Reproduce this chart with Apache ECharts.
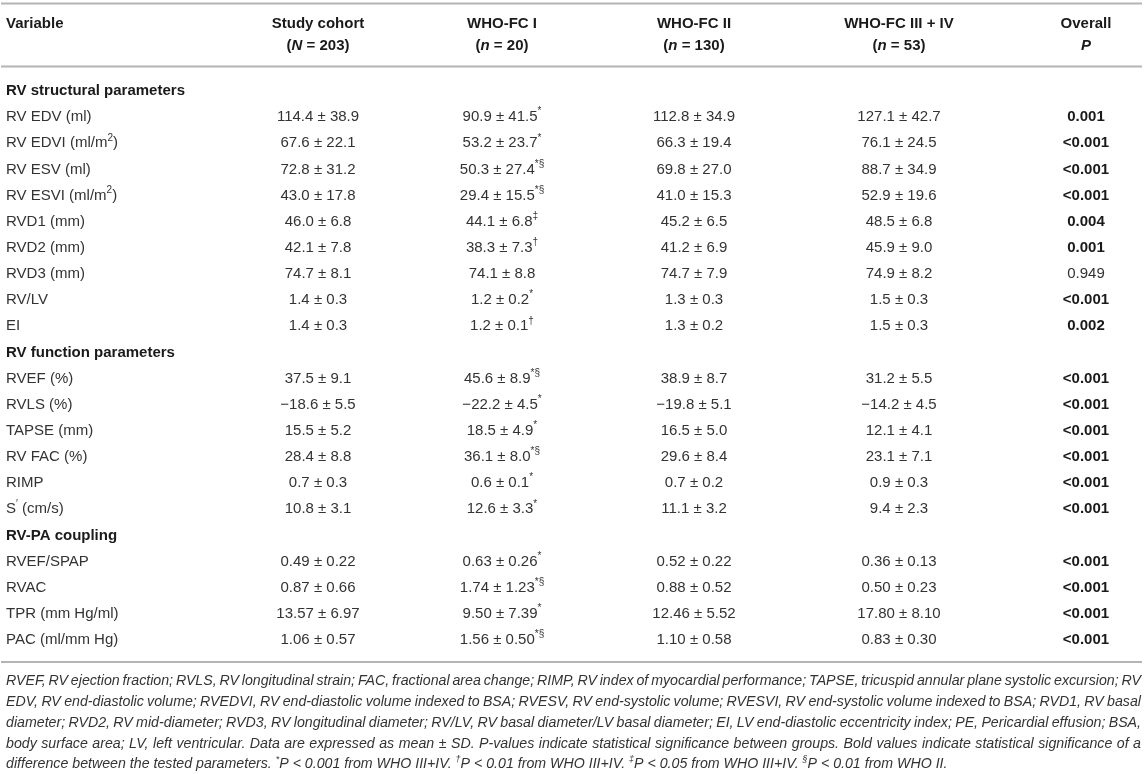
<!DOCTYPE html>
<html>
<head>
<meta charset="utf-8">
<script src="https://cdn.jsdelivr.net/npm/echarts@6/dist/echarts.min.js"></script>
<style>
html, body { margin: 0; padding: 0; background: #fff; }
#main { width: 1147px; height: 774px; }
</style>
</head>
<body>
<div id="main"></div>
<script>
// {x} = superscript, [x] = italic
var rowLabels = [
    'RV structural parameters',
    'RV EDV (ml)', 'RV EDVI (ml/m{2})', 'RV ESV (ml)', 'RV ESVI (ml/m{2})',
    'RVD1 (mm)', 'RVD2 (mm)', 'RVD3 (mm)', 'RV/LV', 'EI',
    'RV function parameters',
    'RVEF (%)', 'RVLS (%)', 'TAPSE (mm)', 'RV FAC (%)', 'RIMP', 'S{′} (cm/s)',
    'RV-PA coupling',
    'RVEF/SPAP', 'RVAC', 'TPR (mm Hg/ml)', 'PAC (ml/mm Hg)'
];
var sectionRows = [0, 10, 17];

var colTitles = ['Study cohort', 'WHO-FC I', 'WHO-FC II', 'WHO-FC III + IV', 'Overall'];
var colSubs = ['([N] = 203)', '([n] = 20)', '([n] = 130)', '([n] = 53)', '[P]'];

var cohort = ['114.4 ± 38.9', '67.6 ± 22.1', '72.8 ± 31.2', '43.0 ± 17.8', '46.0 ± 6.8', '42.1 ± 7.8',
    '74.7 ± 8.1', '1.4 ± 0.3', '1.4 ± 0.3', '37.5 ± 9.1', '−18.6 ± 5.5', '15.5 ± 5.2', '28.4 ± 8.8',
    '0.7 ± 0.3', '10.8 ± 3.1', '0.49 ± 0.22', '0.87 ± 0.66', '13.57 ± 6.97', '1.06 ± 0.57'];
var fc1 = ['90.9 ± 41.5', '53.2 ± 23.7', '50.3 ± 27.4', '29.4 ± 15.5', '44.1 ± 6.8', '38.3 ± 7.3',
    '74.1 ± 8.8', '1.2 ± 0.2', '1.2 ± 0.1', '45.6 ± 8.9', '−22.2 ± 4.5', '18.5 ± 4.9', '36.1 ± 8.0',
    '0.6 ± 0.1', '12.6 ± 3.3', '0.63 ± 0.26', '1.74 ± 1.23', '9.50 ± 7.39', '1.56 ± 0.50'];
var fc1Marks = ['*', '*', '*§', '*§', '‡', '†', '', '*', '†', '*§', '*', '*', '*§', '*', '*', '*', '*§', '*', '*§'];
var fc2 = ['112.8 ± 34.9', '66.3 ± 19.4', '69.8 ± 27.0', '41.0 ± 15.3', '45.2 ± 6.5', '41.2 ± 6.9',
    '74.7 ± 7.9', '1.3 ± 0.3', '1.3 ± 0.2', '38.9 ± 8.7', '−19.8 ± 5.1', '16.5 ± 5.0', '29.6 ± 8.4',
    '0.7 ± 0.2', '11.1 ± 3.2', '0.52 ± 0.22', '0.88 ± 0.52', '12.46 ± 5.52', '1.10 ± 0.58'];
var fc34 = ['127.1 ± 42.7', '76.1 ± 24.5', '88.7 ± 34.9', '52.9 ± 19.6', '48.5 ± 6.8', '45.9 ± 9.0',
    '74.9 ± 8.2', '1.5 ± 0.3', '1.5 ± 0.3', '31.2 ± 5.5', '−14.2 ± 4.5', '12.1 ± 4.1', '23.1 ± 7.1',
    '0.9 ± 0.3', '9.4 ± 2.3', '0.36 ± 0.13', '0.50 ± 0.23', '17.80 ± 8.10', '0.83 ± 0.30'];
var pValues = ['0.001', '<0.001', '<0.001', '<0.001', '0.004', '0.001', '0.949', '<0.001', '0.002',
    '<0.001', '<0.001', '<0.001', '<0.001', '<0.001', '<0.001',
    '<0.001', '<0.001', '<0.001', '<0.001'];

var footLines = [
    'RVEF, RV ejection fraction; RVLS, RV longitudinal strain; FAC, fractional area change; RIMP, RV index of myocardial performance; TAPSE, tricuspid annular plane systolic excursion; RV',
    'EDV, RV end-diastolic volume; RVEDVI, RV end-diastolic volume indexed to BSA; RVESV, RV end-systolic volume; RVESVI, RV end-systolic volume indexed to BSA; RVD1, RV basal',
    'diameter; RVD2, RV mid-diameter; RVD3, RV longitudinal diameter; RV/LV, RV basal diameter/LV basal diameter; EI, LV end-diastolic eccentricity index; PE, Pericardial effusion; BSA,',
    'body surface area; LV, left ventricular. Data are expressed as mean ± SD. P-values indicate statistical significance between groups. Bold values indicate statistical significance of a',
    'difference between the tested parameters. {*}P < 0.001 from WHO III+IV. {†}P < 0.01 from WHO III+IV. {‡}P < 0.05 from WHO III+IV. {§}P < 0.01 from WHO II.'
];

// layout
var FAM = '"Liberation Sans", Arial, sans-serif';
var colX = [318, 502, 694, 899, 1086];
var LEFT = 6, RIGHT = 1141;
var BODY = '#333', DARK = '#1a1a1a', RULE = '#b4b4b4';
var SIZE = 15, FOOT = 14.2;

var ctx = document.createElement('canvas').getContext('2d');
function measure(p) {
    ctx.font = (p.style || 'normal') + ' ' + (p.weight || 'normal') + ' ' + p.size + 'px ' + FAM;
    return ctx.measureText(p.t).width;
}
function parse(str, base) {
    var out = [];
    str.split(/(\{[^}]*\}|\[[^\]]*\])/).forEach(function (s) {
        if (!s) return;
        var p = Object.assign({}, base);
        if (s[0] === '{') { p.t = s.slice(1, -1); p.sup = true; p.size = Math.round(base.size * 0.64); }
        else if (s[0] === '[') { p.t = s.slice(1, -1); p.style = 'italic'; }
        else p.t = s;
        out.push(p);
    });
    return out;
}
function run(x, y, align, pieces, color) {
    var w = 0;
    pieces.forEach(function (p) { w += measure(p); });
    var cx = align === 'center' ? x - w / 2 : (align === 'right' ? x - w : x);
    return pieces.map(function (p) {
        var el = {
            type: 'text', silent: true,
            style: {
                text: p.t, x: cx, y: y + (p.sup ? -p.size * 0.55 : 0),
                fontSize: p.size, fontFamily: FAM, fontWeight: p.weight || 'normal',
                fontStyle: p.style || 'normal', fill: color,
                textAlign: 'left', textVerticalAlign: 'middle', align: 'left', verticalAlign: 'middle'
            }
        };
        cx += measure(p);
        return el;
    });
}

// map table rows -> data index
var dataIndexOfRow = [];
var k = 0;
rowLabels.forEach(function (l, i) { dataIndexOfRow.push(sectionRows.indexOf(i) >= 0 ? -1 : k++); });

function renderRow(params, api) {
    var r = api.value(1);
    var y = api.coord([0, r])[1];
    var kids = [];
    var isSec = sectionRows.indexOf(r) >= 0;
    kids = kids.concat(run(api.coord([LEFT, r])[0], y, 'left',
        parse(rowLabels[r], { size: SIZE, weight: isSec ? 'bold' : 'normal' }), isSec ? DARK : BODY));
    var d = dataIndexOfRow[r];
    if (d >= 0) {
        var cols = [cohort[d], fc1[d] + (fc1Marks[d] ? '{' + fc1Marks[d] + '}' : ''), fc2[d], fc34[d]];
        cols.forEach(function (c, j) {
            kids = kids.concat(run(api.coord([colX[j], r])[0], y, 'center', parse(c, { size: SIZE }), BODY));
        });
        var sig = parseFloat(pValues[d].replace('<', '')) < 0.05;
        kids = kids.concat(run(api.coord([colX[4], r])[0], y, 'center',
            [{ t: pValues[d], size: SIZE, weight: sig ? 'bold' : 'normal' }], sig ? DARK : BODY));
    }
    return { type: 'group', children: kids };
}

// header + rules + footnote
var graphics = [];
function rule(y) {
    graphics.push({ type: 'line', silent: true, shape: { x1: LEFT - 5, y1: y, x2: RIGHT + 1, y2: y },
        style: { stroke: RULE, lineWidth: 2 } });
}
rule(3.5); rule(66.5); rule(662);
graphics = graphics.concat(run(LEFT, 24, 'left', [{ t: 'Variable', size: SIZE, weight: 'bold' }], DARK));
colTitles.forEach(function (t, j) {
    graphics = graphics.concat(run(colX[j], 24, 'center', [{ t: t, size: SIZE, weight: 'bold' }], DARK));
    graphics = graphics.concat(run(colX[j], 46, 'center', parse(colSubs[j], { size: SIZE, weight: 'bold' }), DARK));
});
footLines.forEach(function (line, i) {
    var y = 681.5 + i * 20.7;
    var base = { size: FOOT, style: 'italic' };
    if (i === footLines.length - 1) {
        graphics = graphics.concat(run(LEFT, y, 'left', parse(line, base), BODY));
        return;
    }
    var words = line.split(' ');
    var ws = words.map(function (w) { return measure(Object.assign({ t: w }, base)); });
    var sum = ws.reduce(function (a, b) { return a + b; }, 0);
    var gap = (RIGHT - LEFT - sum) / (words.length - 1);
    var x = LEFT;
    words.forEach(function (w, j) {
        graphics = graphics.concat(run(x, y, 'left', [Object.assign({ t: w }, base)], BODY));
        x += ws[j] + gap;
    });
});

var chart = echarts.init(document.getElementById('main'), null, { renderer: 'canvas' });
chart.setOption({
    animation: false,
    grid: { left: 0, right: 0, top: 78, height: 575, containLabel: false },
    xAxis: { type: 'value', min: 0, max: 1147, show: false },
    yAxis: { type: 'category', data: rowLabels.map(function (l, i) { return i; }), inverse: true, show: false },
    graphic: graphics,
    series: [{
        type: 'custom',
        clip: false,
        renderItem: renderRow,
        data: rowLabels.map(function (l, i) { return [0, i]; })
    }]
});
</script>
</body>
</html>
